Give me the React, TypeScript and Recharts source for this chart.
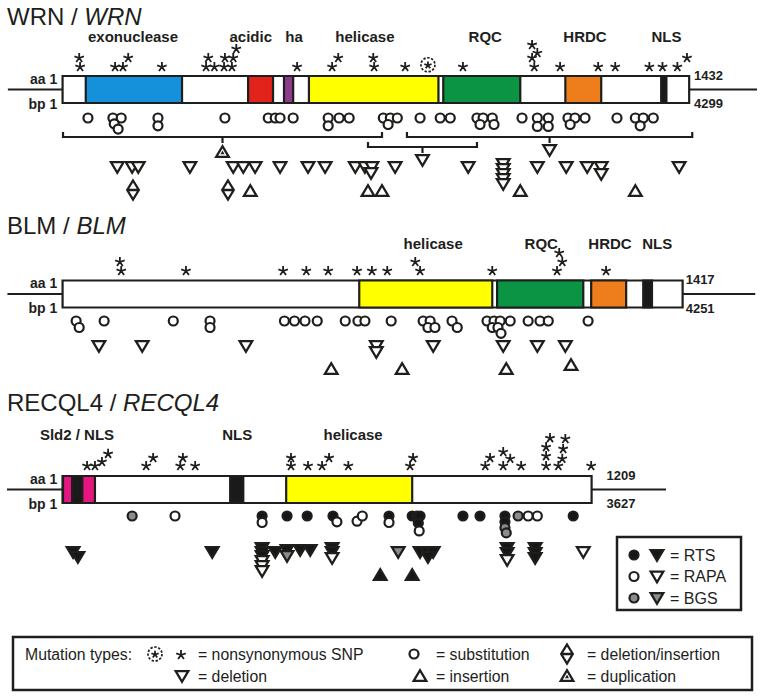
import React from "react";
import { ScatterChart, Scatter, XAxis, YAxis, ReferenceArea, ReferenceLine } from "recharts";

// ---------- WRN ----------
const wrnDomains = [
  { name: "exonuclease", from: 53, to: 273, color: "#1591dc" },
  { name: "acidic", from: 424, to: 481, color: "#e2231c" },
  { name: "ha", from: 506, to: 527, color: "#8c3b8b" },
  { name: "helicase", from: 563, to: 859, color: "#ffff00" },
  { name: "RQC", from: 870, to: 1046, color: "#0b9444" },
  { name: "HRDC", from: 1149, to: 1231, color: "#ee7d1b" },
  { name: "NLS", from: 1368, to: 1380, color: "#1a1a1a" },
];
const wrnLabels: [string, number][] = [
  ["exonuclease", 161], ["acidic", 430], ["ha", 529], ["helicase", 691],
  ["RQC", 966], ["HRDC", 1194], ["NLS", 1380],
];
const wrnStars: [number, number][] = [
  [38, 1], [40, 0], [120, 0], [138, 0], [150, 1], [227, 0], [328, 0], [347, 0], [333, 1],
  [369, 0], [387, 0], [371, 1], [390, 1], [397, 2], [536, 0], [616, 0], [630, 1], [710, 1],
  [712, 0], [783, 0], [915, 0], [1078, 0], [1073, 1], [1085, 1.55], [1073, 2.45], [1137, 0],
  [1224, 0], [1263, 0], [1341, 0], [1371, 0], [1405, 0], [1427, 1],
];
const wrnDashedStars: [number, number][] = [[835, 0.25]];
const wrnCircles: [number, number][] = [
  [58, 0], [115, 0], [134, 0], [118, 0.9], [127, 1.7], [218, 0], [218, 1.2], [371, 0],
  [470, 0], [486, 0], [497, 0], [527, 0], [607, 0], [607, 1.2], [632, 0], [655, 0],
  [733, 0], [749, 0], [765, 0], [744, 1], [817, 0], [863, 0], [886, 0], [947, 0], [961, 0],
  [982, 0], [954, 1], [986, 1], [1050, 0], [1085, 0], [1085, 1.3], [1110, 0], [1110, 1.3],
  [1155, 0], [1171, 0], [1160, 1], [1194, 0], [1267, 0], [1309, 0], [1327, 0], [1320, 1.2],
  [1350, 0],
];
const wrnDeletions: [number, number][] = [
  [125, 0], [159, 0], [173, 0], [291, 0], [390, 0], [413, 0], [440, 0], [497, 0], [561, 0],
  [600, 0], [669, 0], [691, 0], [707, 0], [705, 1.2], [760, 0], [927, 0], [1007, -0.6],
  [1007, 0.4], [1007, 1.4], [1007, 2.4], [1007, 3.4], [1085, 0], [1151, 0], [1199, 0],
  [1231, 0], [1231, 1.4], [1409, 0],
];
const wrnInsertions: [number, number][] = [[429, 0], [698, 0], [730, 0], [1046, 0], [1309, 0]];
const wrnDelIns: number[] = [161, 378];
const wrnBrackets: [number, number, number, string][] = [
  [1, 730, 0, "dup"], [698, 947, 1, "del"], [787, 1439, 0, "del"],
];

// ---------- BLM ----------
const blmDomains = [
  { name: "helicase", from: 678, to: 982, color: "#ffff00" },
  { name: "RQC", from: 993, to: 1190, color: "#0b9444" },
  { name: "HRDC", from: 1208, to: 1288, color: "#ee7d1b" },
  { name: "NLS", from: 1327, to: 1347, color: "#1a1a1a" },
];
const blmLabels: [string, number][] = [["helicase", 847], ["RQC", 1094], ["HRDC", 1251], ["NLS", 1359]];
const blmStars: [number, number][] = [
  [134, 0], [131, 1], [282, 0], [504, 0], [557, 0], [607, 0], [673, 0], [707, 0], [742, 0],
  [806, 1], [817, 0], [982, 0], [1130, 0], [1142, 1], [1135, 2], [1242, 0],
];
const blmCircles: [number, number][] = [
  [31, 0], [38, 1], [95, 0], [253, 0], [337, 0], [337, 1], [507, 0], [530, 0], [554, 0],
  [582, 0], [646, 0], [675, 0], [691, 0], [751, 0], [824, 0], [840, 0], [835, 1], [851, 1],
  [890, 0], [902, 1], [970, 0], [986, 0], [1000, 0], [1023, 0], [982, 1], [995, 1],
  [1002, 1.9], [1064, 0], [1091, 0], [1110, 0], [1201, 0],
];
const blmDeletions: [number, number][] = [
  [83, 0], [182, 0], [419, 0], [717, 0], [717, 1.2], [847, 0], [1007, 0], [1085, 0], [1149, 0],
];
const blmInsertions: [number, number][] = [[614, 0], [776, 0], [1014, 0], [1162, -0.8]];

// ---------- RECQL4 ----------
const recDomains = [
  { name: "Sld2a", from: 1, to: 22, color: "#e3177f" },
  { name: "NLS1", from: 22, to: 45, color: "#1a1a1a" },
  { name: "Sld2b", from: 45, to: 74, color: "#e3177f" },
  { name: "NLS2", from: 383, to: 413, color: "#1a1a1a" },
  { name: "helicase", from: 511, to: 799, color: "#ffff00" },
];
const recLabels: [string, number][] = [["Sld2 / NLS", 33], ["NLS", 399], ["helicase", 664]];
const recStars: [number, number][] = [
  [56, 0], [74, 0], [90, 0.45], [104, 1.35], [191, 0], [207, 0.9], [269, 0], [275, 0.9],
  [303, 0], [522, 0], [522, 0.9], [561, 0], [593, 0], [609, 0.9], [653, 0], [794, 0],
  [801, 0.9], [966, 0], [977, 0.9], [1007, 0], [1007, 1.55], [1023, 0.8], [1048, 0],
  [1105, 0], [1105, 1.1], [1105, 2.1], [1114, 3.1], [1133, 0], [1142, 0.8], [1144, 1.9],
  [1149, 3.0], [1208, 0],
];
// group: R = RTS, A = RAPA, B = BGS
const recCircles: [number, number, string][] = [
  [159, 0, "B"], [257, 0, "A"], [456, 0, "R"], [456, 1, "A"], [513, 0, "R"], [559, 0, "R"],
  [618, 0, "R"], [627, 0.9, "A"], [673, 0.8, "A"], [685, 0, "A"], [746, 0, "R"], [746, 1, "A"],
  [799, 0, "R"], [810, 0, "R"], [817, 0, "R"], [813, 1.1, "R"], [815, 2.3, "A"], [915, 0, "R"],
  [954, 0, "R"], [1011, 0, "R"], [1011, 0.9, "R"], [1011, 1.8, "B"], [1014, 2.6, "B"],
  [1041, 0, "B"], [1064, 0, "A"], [1085, 0, "A"], [1167, 0, "R"],
];
const recDeletions: [number, number, string][] = [
  [24, 0, "R"], [35, 1, "R"], [342, 0, "R"], [456, -0.8, "R"], [456, 0, "R"], [456, 0.8, "R"],
  [456, 1.8, "A"], [456, 2.8, "A"], [456, 3.8, "A"], [486, 0, "R"], [513, -0.4, "R"],
  [513, 0.8, "B"], [543, -0.4, "R"], [566, -0.4, "R"], [616, -0.8, "R"], [616, 0, "R"],
  [616, 1.2, "A"], [767, 0, "B"], [817, 0, "R"], [833, 0, "R"], [847, 0, "R"], [835, 1, "R"],
  [1016, -0.8, "R"], [1016, 0.2, "R"], [1016, 1.6, "A"], [1080, -0.8, "R"], [1080, 0.2, "R"],
  [1080, 1.2, "R"], [1190, 0, "A"],
];
const recInsertions: [number, number, string][] = [[726, 0, "R"], [799, 0, "R"]];

// ---------- layout ----------
const W = 764;
const H = 697;
const FONT = "'Liberation Sans', Arial, Helvetica, sans-serif";
const INK = "#1e1e1c";
const FILL: Record<string, string> = { R: "#161616", A: "#ffffff", B: "#8c8c8c" };

const genes = [
  {
    title: "WRN", aa: 1432, bp: 4299, flank: [-125, 1587], numGap: 11,
    lay: { mid: 89.5, label: 36, star: 67, circle: 118, bracket: 137, del: 167, ins: 191 },
    domains: wrnDomains, labels: wrnLabels, stars: wrnStars, dashed: wrnDashedStars,
    circles: wrnCircles, dels: wrnDeletions, ins: wrnInsertions, delins: wrnDelIns, brackets: wrnBrackets,
  },
  {
    title: "BLM", aa: 1417, bp: 4251, flank: [-126, 1583], numGap: 7,
    lay: { mid: 294, label: 243, star: 271, circle: 321, bracket: 0, del: 346, ins: 369 },
    domains: blmDomains, labels: blmLabels, stars: blmStars, dashed: [] as [number, number][],
    circles: blmCircles, dels: blmDeletions, ins: blmInsertions, delins: [] as number[], brackets: [] as [number, number, number, string][],
  },
  {
    title: "RECQL4", aa: 1209, bp: 3627, flank: [-127, 1379], numGap: 34,
    lay: { mid: 489.5, label: 434, star: 466, circle: 516, bracket: 0, del: 552, ins: 575 },
    domains: recDomains, labels: recLabels, stars: recStars, dashed: [] as [number, number][],
    circles: recCircles, dels: recDeletions, ins: recInsertions, delins: [] as number[], brackets: [] as [number, number, number, string][],
  },
];

const marks: any[] = [];
const texts: any[] = [];
genes.forEach((g) => {
  const L = g.lay;
  g.labels.forEach(([t, aa]) => texts.push({ x: aa, y: L.label, text: t, size: 15, weight: 700, anchor: "middle" }));
  texts.push({ x: -12, y: L.mid - 11, text: "aa 1", size: 14, weight: 700, anchor: "end" });
  texts.push({ x: -12, y: L.mid + 14, text: "bp 1", size: 14, weight: 700, anchor: "end" });
  texts.push({ x: g.aa + g.numGap, y: L.mid - 14.5, text: String(g.aa), size: 13, weight: 700, anchor: "start" });
  texts.push({ x: g.aa + g.numGap, y: L.mid + 14, text: String(g.bp), size: 13, weight: 700, anchor: "start" });
  g.stars.forEach(([aa, lv]) => marks.push({ x: aa, y: L.star - lv * 9, kind: "star" }));
  g.dashed.forEach(([aa, lv]) => marks.push({ x: aa, y: L.star - lv * 9, kind: "snp" }));
  g.circles.forEach((c: any[]) => marks.push({ x: c[0], y: L.circle + c[1] * 6.5, kind: "circle", fill: FILL[c[2] || "A"] }));
  g.brackets.forEach(([a, b, lv, k]) =>
    marks.push({ x: (a + b) / 2, y: L.bracket + lv * 10 + (k === "dup" ? 15 : 13), kind: k, fill: "#fff" })
  );
  g.dels.forEach((c: any[]) => marks.push({ x: c[0], y: L.del + c[1] * 5, kind: "del", fill: FILL[c[2] || "A"] }));
  g.delins.forEach((aa) => marks.push({ x: aa, y: L.ins - 1, kind: "delins" }));
  g.ins.forEach((c: any[]) => marks.push({ x: c[0], y: L.ins + c[1] * 5, kind: "ins", fill: FILL[c[2] || "A"] }));
});

const Glyph = ({ kind, x, y, fill = "#fff" }: { kind: string; x: number; y: number; fill?: string }) => {
  if (kind === "star" || kind === "snpStar") {
    const r = kind === "star" ? 5 : 3.8;
    const d = [0, 1, 2, 3, 4]
      .map((i) => {
        const a = ((-90 + i * 72) * Math.PI) / 180;
        return `M${x},${y}L${x + r * Math.cos(a)},${y + r * Math.sin(a)}`;
      })
      .join("");
    return <path d={d} stroke={INK} strokeWidth={1.8} fill="none" />;
  }
  if (kind === "snp") {
    return (
      <g>
        <circle cx={x} cy={y} r={7} fill="#fff" stroke={INK} strokeWidth={1.7} strokeDasharray="2.4 1.6" />
        <Glyph kind="snpStar" x={x} y={y + 0.5} />
      </g>
    );
  }
  if (kind === "circle") {
    return <circle cx={x} cy={y} r={4.5} fill={fill} stroke={INK} strokeWidth={2.2} />;
  }
  if (kind === "del") {
    return (
      <path d={`M${x - 6.3},${y - 4.8}L${x + 6.3},${y - 4.8}L${x},${y + 5.8}Z`} fill={fill} stroke={INK} strokeWidth={2.3} strokeLinejoin="miter" />
    );
  }
  if (kind === "ins" || kind === "dup") {
    return (
      <g>
        <path d={`M${x - 6.3},${y + 4.8}L${x + 6.3},${y + 4.8}L${x},${y - 5.8}Z`} fill={fill} stroke={INK} strokeWidth={2.3} strokeLinejoin="miter" />
        {kind === "dup" && <path d={`M${x - 2},${y + 2.2}L${x + 2},${y + 2.2}L${x},${y - 1.5}Z`} fill={INK} />}
      </g>
    );
  }
  if (kind === "delins") {
    return (
      <path
        d={`M${x},${y - 9.5}L${x + 5.8},${y}L${x},${y + 9.5}L${x - 5.8},${y}ZM${x - 5.8},${y}L${x + 5.8},${y}`}
        fill="#fff"
        stroke={INK}
        strokeWidth={2.3}
      />
    );
  }
  return <g />;
};

const markShape = (p: any) => {
  if (p.cx == null || p.cy == null) return <g />;
  return <Glyph kind={p.payload.kind} x={p.cx} y={p.cy} fill={p.payload.fill} />;
};

const textShape = (p: any) => {
  if (p.cx == null || p.cy == null) return <g />;
  const d = p.payload;
  return (
    <text x={p.cx} y={p.cy} textAnchor={d.anchor} dominantBaseline="central" fontFamily={FONT}
      fontSize={d.size} fontWeight={d.weight} fill={INK}>
      {d.text}
    </text>
  );
};

const legendGroups: [string, string][] = [["R", "= RTS"], ["A", "= RAPA"], ["B", "= BGS"]];

const App: React.FC = () => {
  return (
    <div style={{ position: "relative", width: W, height: H, background: "#fff" }}>
      <style>{"body{margin:0}"}</style>
      <ScatterChart width={W} height={H} margin={{ top: 0, right: 0, bottom: 0, left: 0 }}>
        <XAxis type="number" dataKey="x" domain={[-143, 1603]} hide allowDataOverflow />
        <YAxis type="number" dataKey="y" domain={[0, H]} reversed hide allowDataOverflow />
        {genes.map((g) => (
          <ReferenceLine key={g.title + "l"} segment={[{ x: g.flank[0], y: g.lay.mid }, { x: 0, y: g.lay.mid }]}
            stroke={INK} strokeWidth={2.2} ifOverflow="visible" />
        ))}
        {genes.map((g) => (
          <ReferenceLine key={g.title + "r"} segment={[{ x: g.aa, y: g.lay.mid }, { x: g.flank[1], y: g.lay.mid }]}
            stroke={INK} strokeWidth={2.2} ifOverflow="visible" />
        ))}
        {genes.map((g) => (
          <ReferenceArea key={g.title + "box"} x1={0} x2={g.aa} y1={g.lay.mid - 13.5} y2={g.lay.mid + 13.5}
            fill="#fff" fillOpacity={1} stroke={INK} strokeWidth={2.2} ifOverflow="visible" />
        ))}
        {genes.flatMap((g) =>
          g.domains.map((d) => (
            <ReferenceArea key={g.title + d.name} x1={d.from} x2={d.to} y1={g.lay.mid - 13.5} y2={g.lay.mid + 13.5}
              fill={d.color} fillOpacity={1} stroke={INK} strokeWidth={2.2} ifOverflow="visible" />
          ))
        )}
        {genes.flatMap((g) =>
          g.brackets.flatMap(([a, b, lv], i) => {
            const y = g.lay.bracket + lv * 10;
            const m = (a + b) / 2;
            return [
              <ReferenceLine key={`${g.title}b${i}h`} segment={[{ x: a, y }, { x: b, y }]} stroke={INK} strokeWidth={2.2} ifOverflow="visible" />,
              <ReferenceLine key={`${g.title}b${i}a`} segment={[{ x: a, y: y + 1 }, { x: a, y: y - 5 }]} stroke={INK} strokeWidth={2.2} ifOverflow="visible" />,
              <ReferenceLine key={`${g.title}b${i}b`} segment={[{ x: b, y: y + 1 }, { x: b, y: y - 5 }]} stroke={INK} strokeWidth={2.2} ifOverflow="visible" />,
              <ReferenceLine key={`${g.title}b${i}m`} segment={[{ x: m, y }, { x: m, y: y + 6 }]} stroke={INK} strokeWidth={2.2} ifOverflow="visible" />,
            ];
          })
        )}
        <Scatter data={marks} shape={markShape} isAnimationActive={false} />
        <Scatter data={texts} shape={textShape} isAnimationActive={false} />
      </ScatterChart>
      <svg width={W} height={H} style={{ position: "absolute", left: 0, top: 0, pointerEvents: "none" }}
        fontFamily={FONT} fill={INK}>
        {genes.map((g) => (
          <text key={g.title} x={7} y={g.lay.mid - (g.title === "WRN" ? 73.5 : g.title === "BLM" ? 69 : 87.5)}
            dominantBaseline="central" fontSize={24}>
            {g.title} / <tspan fontStyle="italic">{g.title}</tspan>
          </text>
        ))}
        <rect x={617} y={537} width={124} height={73} fill="#fff" stroke={INK} strokeWidth={2.5} />
        {legendGroups.map(([grp, label], i) => (
          <g key={grp}>
            <Glyph kind="circle" x={634} y={555 + i * 21.5} fill={FILL[grp]} />
            <Glyph kind="del" x={657} y={555 + i * 21.5} fill={FILL[grp]} />
            <text x={670} y={555 + i * 21.5} dominantBaseline="central" fontSize={16}>{label}</text>
          </g>
        ))}
        <rect x={13} y={637} width={739} height={53} fill="#fff" stroke={INK} strokeWidth={2.5} />
        <g fontSize={15.8}>
          <text x={25} y={654} dominantBaseline="central">Mutation types:</text>
          <Glyph kind="snp" x={155} y={654} />
          <Glyph kind="star" x={181} y={655} />
          <text x={198} y={654} dominantBaseline="central">= nonsynonymous SNP</text>
          <Glyph kind="del" x={182} y={676} />
          <text x={198} y={676} dominantBaseline="central">= deletion</text>
          <Glyph kind="circle" x={414} y={654} />
          <text x={436} y={654} dominantBaseline="central">= substitution</text>
          <Glyph kind="ins" x={420} y={676} />
          <text x={436} y={676} dominantBaseline="central">= insertion</text>
          <Glyph kind="delins" x={567} y={654} />
          <text x={587} y={654} dominantBaseline="central">= deletion/insertion</text>
          <Glyph kind="dup" x={567} y={676} />
          <text x={587} y={676} dominantBaseline="central">= duplication</text>
        </g>
      </svg>
    </div>
  );
};

export default App;
